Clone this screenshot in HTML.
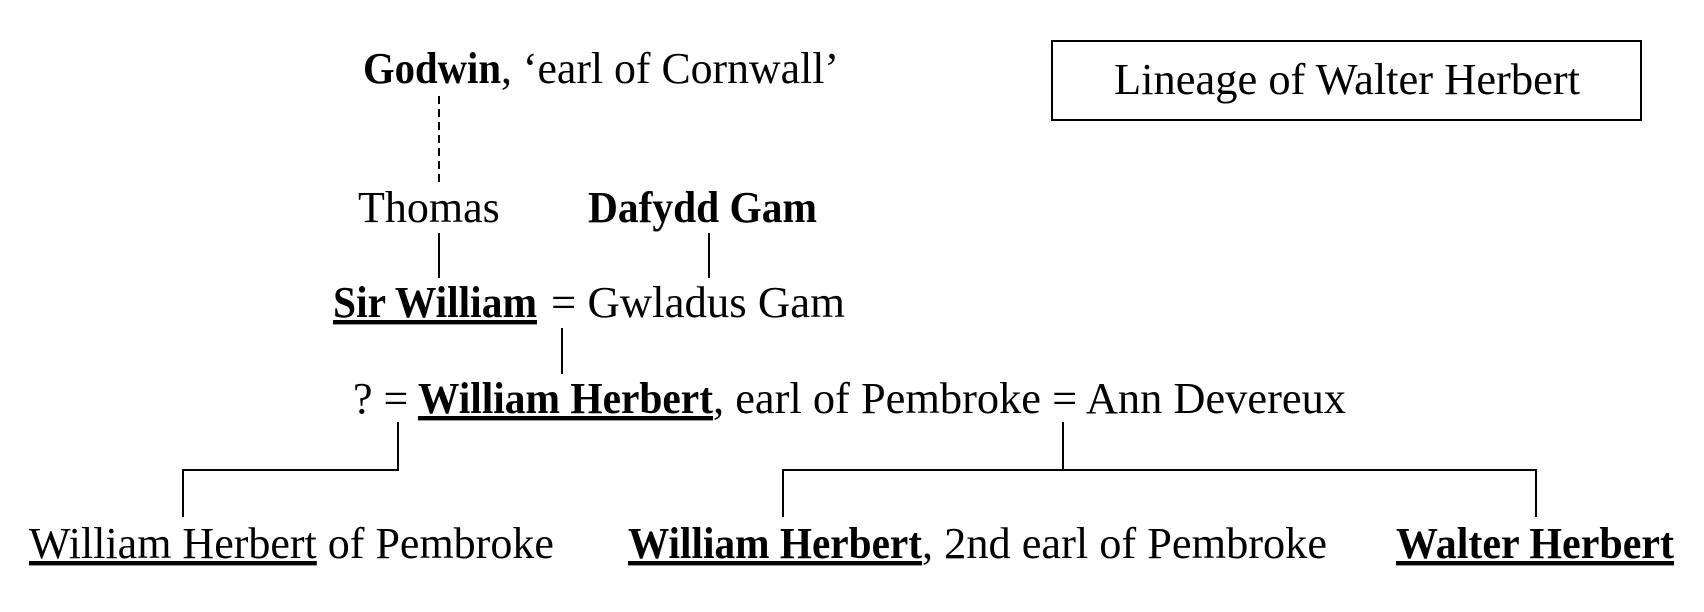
<!DOCTYPE html>
<html><head><meta charset="utf-8"><style>
html,body{margin:0;padding:0;background:#fff;}
svg{display:block;}
text{font-family:"Liberation Serif",serif;font-size:44px;fill:#000;}
.b{font-weight:bold;}
.u{text-decoration:underline;}
</style></head><body>
<svg width="1704" height="612" viewBox="0 0 1704 612" xmlns="http://www.w3.org/2000/svg">
<g stroke="#000" stroke-width="2" fill="none">
<rect x="1052" y="41" width="589" height="79"/>
<line x1="439" y1="96" x2="439" y2="183" stroke-dasharray="8,5"/>
<line x1="439" y1="233" x2="439" y2="278"/>
<line x1="709" y1="233" x2="709" y2="278"/>
<line x1="562" y1="328" x2="562" y2="374"/>
<polyline points="398,422 398,470 183,470 183,517"/>
<line x1="1063" y1="422" x2="1063" y2="470"/>
<polyline points="783,517 783,470 1536,470 1536,517"/>
</g>
<text x="1114" y="94" textLength="466" lengthAdjust="spacingAndGlyphs">Lineage of Walter Herbert</text>
<text x="363" y="83" class="b" textLength="138" lengthAdjust="spacingAndGlyphs">Godwin</text>
<text x="501" y="83" textLength="338" lengthAdjust="spacingAndGlyphs">, ‘earl of Cornwall’</text>
<text x="358" y="222">Thomas</text>
<text x="588" y="222" class="b" textLength="229" lengthAdjust="spacingAndGlyphs">Dafydd Gam</text>
<text x="333" y="317" class="b u" textLength="204" lengthAdjust="spacingAndGlyphs">Sir William</text>
<text x="551" y="317" textLength="294" lengthAdjust="spacingAndGlyphs">= Gwladus Gam</text>
<text x="353" y="413">? =</text>
<text x="418" y="413" class="b u" textLength="295" lengthAdjust="spacingAndGlyphs">William Herbert</text>
<text x="713" y="413" textLength="633" lengthAdjust="spacingAndGlyphs">, earl of Pembroke = Ann Devereux</text>
<text x="29" y="558"><tspan class="u">William Herbert</tspan> of Pembroke</text>
<text x="628" y="558" class="b u" textLength="294" lengthAdjust="spacingAndGlyphs">William Herbert</text>
<text x="922" y="558" textLength="405" lengthAdjust="spacingAndGlyphs">, 2nd earl of Pembroke</text>
<text x="1396" y="558" class="b u" textLength="278" lengthAdjust="spacingAndGlyphs">Walter Herbert</text>
</svg>
</body></html>
